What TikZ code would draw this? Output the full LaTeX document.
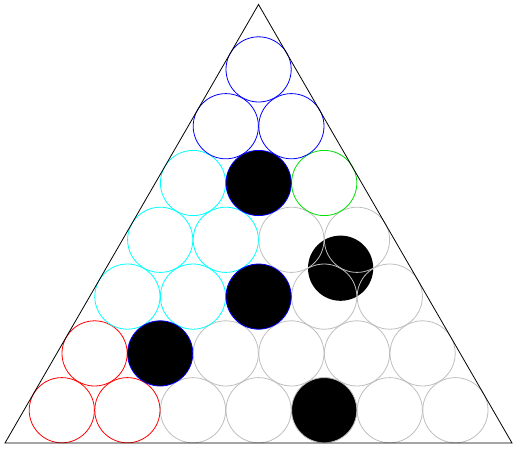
\documentclass[tikz,border=0pt]{standalone}
\usepackage{tikz}
\definecolor{RimGray}{HTML}{BEBEBE}
\definecolor{RimBlue}{HTML}{0000FF}
\definecolor{RimCyan}{HTML}{00FFFF}
\definecolor{RimGreen}{HTML}{00E000}
\definecolor{RimRed}{HTML}{FF0000}
\newcommand{\rad}{32.6}
% centre of ball i in row k (row 0 at the bottom)
\newcommand{\ballat}[2]{({61.8+32.8*(#1)+65.6*(#2)},{410.2-56.8*(#1)})}

\begin{document}
\begin{tikzpicture}[x=1pt, y=-1pt, line width=0.8pt,
    ball/.style={draw=#1, fill=white},
    stone/.style={draw=#1, fill=black}]
    \useasboundingbox (0,0) rectangle (517,448);

    % Loose stone between rows 2 and 3, under the gray rims
    \fill[black] ({(61.8+32.8*2+65.6*3 + 61.8+32.8*3+65.6*3)/2},{(410.2-56.8*2 + 410.2-56.8*3)/2}) circle (\rad);

    % Gray balls
    \foreach \k/\i in {0/2, 0/3, 0/5, 0/6, 1/2, 1/3, 1/4, 1/5, 2/3, 2/4, 3/2, 3/3}
        \draw[ball=RimGray, fill=none] \ballat{\k}{\i} circle (\rad);

    % Coloured balls
    \foreach \k/\i in {0/0, 0/1, 1/0}
        \draw[ball=RimRed] \ballat{\k}{\i} circle (\rad);
    \foreach \k/\i in {2/0, 2/1, 3/0, 3/1, 4/0}
        \draw[ball=RimCyan] \ballat{\k}{\i} circle (\rad);
    \draw[ball=RimGreen] \ballat{4}{2} circle (\rad);
    \foreach \k/\i in {5/0, 5/1, 6/0}
        \draw[ball=RimBlue] \ballat{\k}{\i} circle (\rad);

    % Black stones on the lattice
    \foreach \k/\i in {1/1, 2/2, 4/1}
        \draw[stone=RimBlue] \ballat{\k}{\i} circle (\rad);
    \draw[stone=RimGray] \ballat{0}{4} circle (\rad);

    % Triangle
    \draw[black] (5,443) -- (258.5,4.5) -- (512,443) -- cycle;
\end{tikzpicture}
\end{document}
